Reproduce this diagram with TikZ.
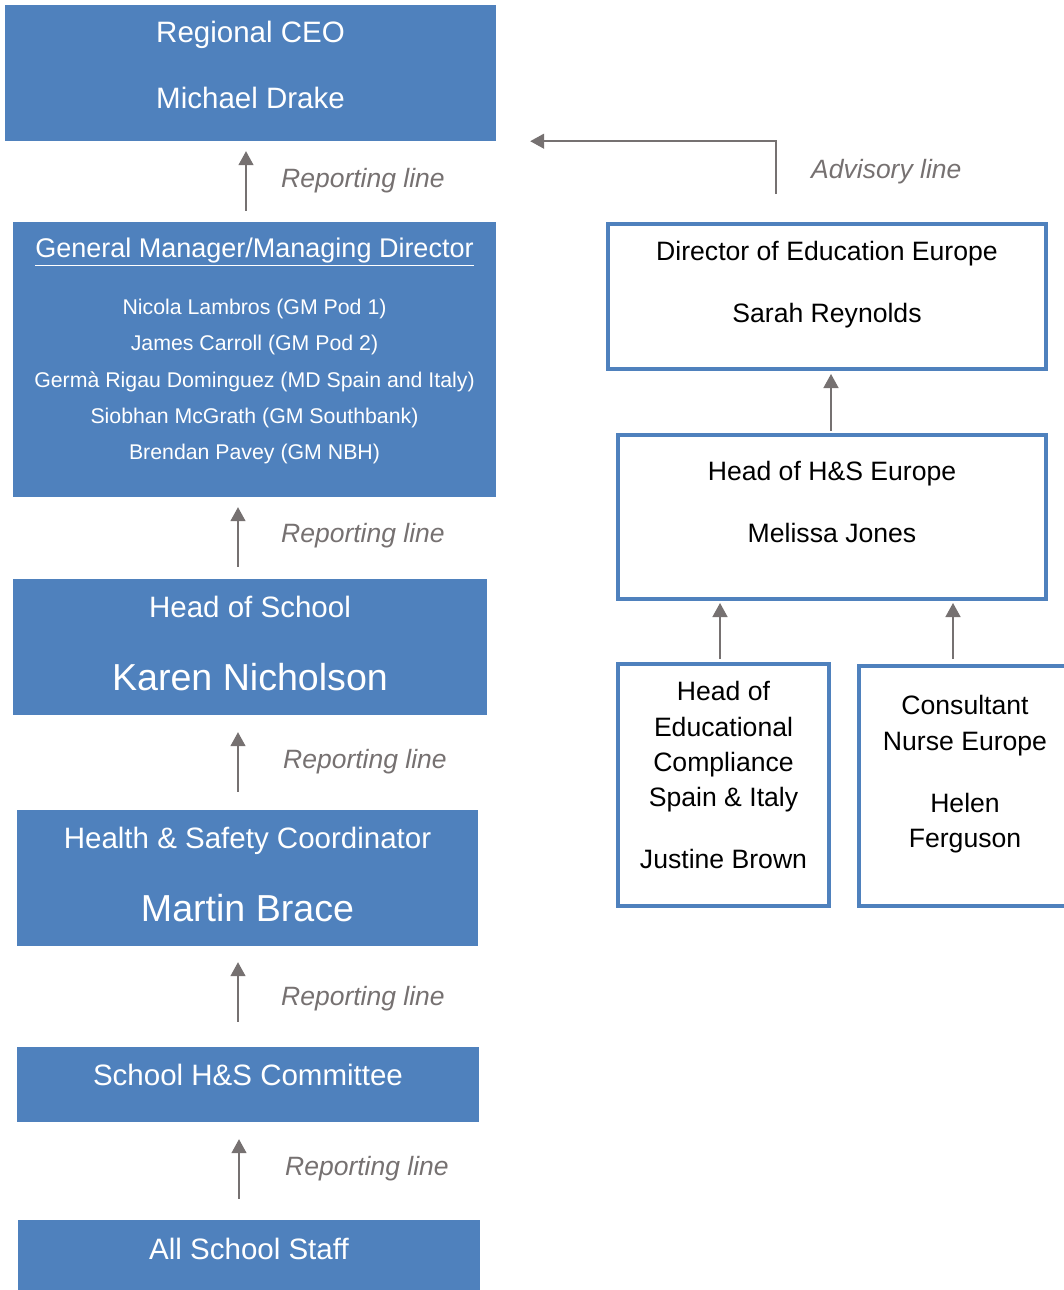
\documentclass[tikz,border=0pt]{standalone}
\usepackage{fontspec}
\setmainfont{Liberation Sans}
\usetikzlibrary{positioning,arrows.meta}
\definecolor{boxblue}{RGB}{79,129,189}
\definecolor{linegray}{RGB}{118,113,113}

\begin{document}
\begin{tikzpicture}[x=1pt, y=-1pt,
	bluebox/.style={rectangle, fill=boxblue, inner sep=0pt},
	whitebox/.style={rectangle, draw=boxblue, line width=4pt, fill=white, inner sep=0pt},
	whitetext/.style={text=white, inner sep=0pt, align=center},
	blacktext/.style={text=black, inner sep=0pt, align=center, font=\fontsize{26.6}{35.3}\selectfont},
	repline/.style={draw=linegray, line width=1.5pt, -{Triangle[length=14pt, width=15pt]}},
	linelabel/.style={text=linegray, inner sep=0pt, anchor=base west, font=\fontsize{26.5}{31}\selectfont\itshape},
	]
	\useasboundingbox (0,0) rectangle (1064,1290);
	%Left column
	\node[bluebox, minimum width=491pt, minimum height=136pt] (ceo) at (250.5,73) {};
	\node[bluebox, minimum width=483pt, minimum height=275pt] (gm) at (254.5,359.5) {};
	\node[bluebox, minimum width=474pt, minimum height=136pt] (hos) at (250,647) {};
	\node[bluebox, minimum width=461pt, minimum height=136pt] (hsc) at (247.5,878) {};
	\node[bluebox, minimum width=462pt, minimum height=75pt] (cttee) at (248,1084.5) {};
	\node[bluebox, minimum width=462pt, minimum height=70pt] (staff) at (249,1255) {};
	%
	\node[whitetext, font=\fontsize{29.5}{66}\selectfont, below=16.4pt of ceo.north] (ceotext) {Regional CEO\\Michael Drake};
	\node[whitetext, font=\fontsize{27}{32}\selectfont, below=16.3pt of gm.north] (gmtitle) {\underline{General Manager/Managing Director}};
	\node[whitetext, font=\fontsize{21.3}{36.2}\selectfont, below=77.3pt of gm.north] (gmnames) {Nicola Lambros (GM Pod 1)\\James Carroll (GM Pod 2)\\Germà Rigau Dominguez (MD Spain and Italy)\\Siobhan McGrath (GM Southbank)\\Brendan Pavey (GM NBH)};
	\node[whitetext, font=\fontsize{29.5}{35}\selectfont, below=17.4pt of hos.north] (hosrole) {Head of School};
	\node[whitetext, font=\fontsize{37.6}{44}\selectfont, below=84.5pt of hos.north] (hosname) {Karen Nicholson};
	\node[whitetext, font=\fontsize{29.5}{35}\selectfont, below=17.4pt of hsc.north] (hscrole) {Health \& Safety Coordinator};
	\node[whitetext, font=\fontsize{37.6}{44}\selectfont, below=84.5pt of hsc.north] (hscname) {Martin Brace};
	\node[whitetext, font=\fontsize{29.5}{35}\selectfont, below=17.4pt of cttee.north] (ctteetext) {School H\&S Committee};
	\node[whitetext, font=\fontsize{29.5}{35}\selectfont, below=18.4pt of staff.north] (stafftext) {All School Staff};
	%Right column
	\node[whitebox, minimum width=438pt, minimum height=145pt] (dir) at (827,296.5) {};
	\node[whitebox, minimum width=428pt, minimum height=164pt] (hse) at (832,517) {};
	\node[whitebox, minimum width=211pt, minimum height=242pt] (hec) at (723.5,785) {};
	\node[whitebox, minimum width=212pt, minimum height=240pt] (nurse) at (965,786) {};
	%
	\node[blacktext, below=19.4pt of dir.north] (dirtext) {Director of Education Europe\\[26.7pt]Sarah Reynolds};
	\node[blacktext, below=28.4pt of hse.north] (hsetext) {Head of H\&S Europe\\[26.7pt]Melissa Jones};
	\node[blacktext, below=19.4pt of hec.north] (hectext) {Head of\\Educational\\Compliance\\Spain \& Italy\\[26.7pt]Justine Brown};
	\node[blacktext, below=31.4pt of nurse.north] (nursetext) {Consultant\\Nurse Europe\\[26.7pt]Helen\\Ferguson};
	
	\draw[repline, shorten <=11pt, shorten >=10pt] (gm.north -| 246,0) -- (ceo.south -| 246,0);
	\draw[repline, shorten <=12pt, shorten >=10pt] (hos.north -| 238,0) -- (gm.south -| 238,0);
	\draw[repline, shorten <=18pt, shorten >=17pt] (hsc.north -| 238,0) -- (hos.south -| 238,0);
	\draw[repline, shorten <=25pt, shorten >=16pt] (cttee.north -| 238,0) -- (hsc.south -| 238,0);
	\draw[repline, shorten <=21pt, shorten >=17pt] (staff.north -| 239,0) -- (cttee.south -| 239,0);
	%
	\draw[repline, shorten <=2pt, shorten >=3pt] (hse.north -| 831,0) -- (dir.south -| 831,0);
	\draw[repline, shorten <=3pt, shorten >=2pt] (hec.north -| 720,0) -- (hse.south -| 720,0);
	\draw[repline, shorten <=5pt, shorten >=2pt] (nurse.north -| 953,0) -- (hse.south -| 953,0);
	%
	\coordinate (advfoot) at (776,194);
	\draw[repline] (advfoot) |- ([xshift=34pt]ceo.south east);
	%
	\node[linelabel] (rl1) at (281,187.4) {Reporting line};
	\node[linelabel] (rl2) at (281,542.4) {Reporting line};
	\node[linelabel] (rl3) at (283,768.4) {Reporting line};
	\node[linelabel] (rl4) at (281,1005.4) {Reporting line};
	\node[linelabel] (rl5) at (285,1175.4) {Reporting line};
	\node[linelabel] (adv) at (811,178.4) {Advisory line};
\end{tikzpicture}
\end{document}
